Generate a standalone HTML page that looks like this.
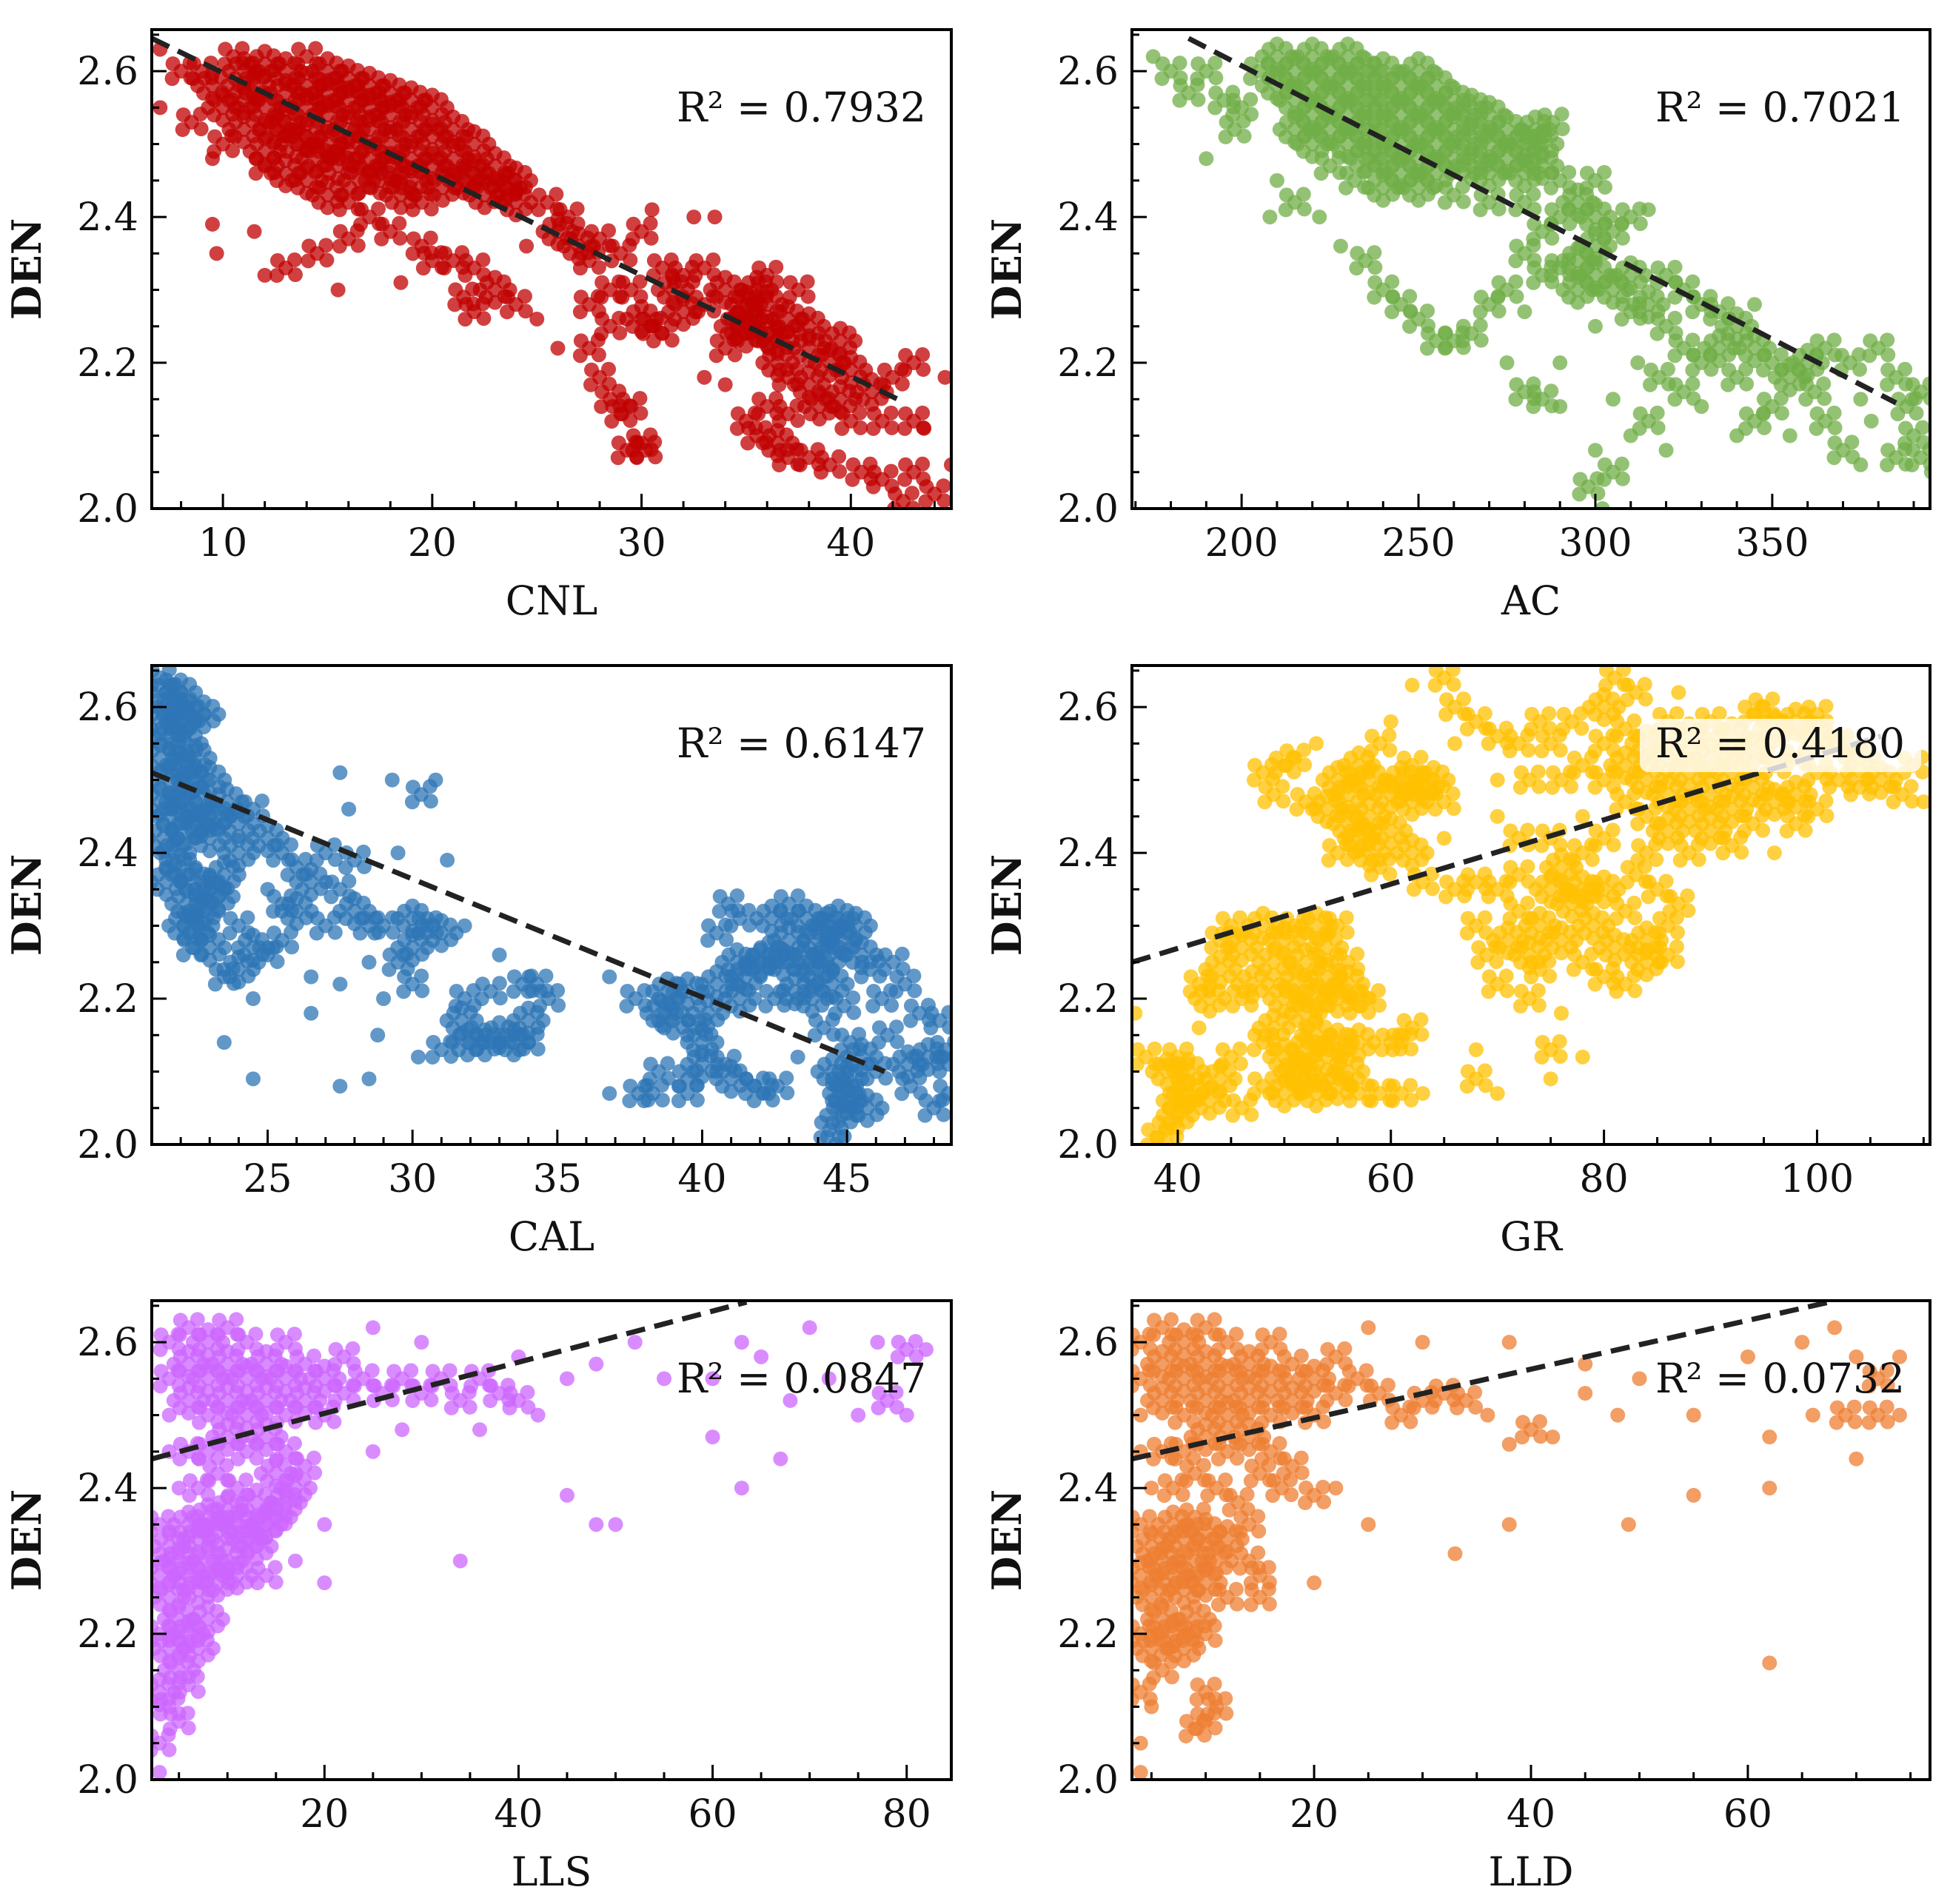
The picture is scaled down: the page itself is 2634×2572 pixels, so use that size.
<!DOCTYPE html>
<html><head><meta charset="utf-8"><style>
html,body{margin:0;padding:0;background:#fff}
svg{display:block}
text{font-family:"DejaVu Serif","Liberation Serif",serif;fill:#111}
</style></head><body>
<svg id="fig" width="2634" height="2572" viewBox="0 0 2634 2572" xmlns="http://www.w3.org/2000/svg"></svg>
<script>
// ---- data (flat [x,y,...] arrays, DEN vs log) ----
const cnlPts=[10.5,2.62,11,2.6,11,2.56,11.5,2.58,12,2.61,12,2.55,12.5,2.52,13,2.6,13,2.57,13,2.53,13.5,2.5,14,2.62,14,2.58,14,2.55,14,2.51,14.5,2.48,15,2.6,15,2.57,15,2.54,15,2.5,15.5,2.47,16,2.59,16,2.56,16,2.52,16,2.49,16.5,2.45,17,2.58,17,2.55,17,2.52,17,2.48,17.5,2.45,18,2.57,18,2.54,18,2.5,18,2.47,18.5,2.43,19,2.56,19,2.52,19,2.48,19,2.45,19.5,2.42,20,2.55,20,2.51,20,2.47,20.5,2.44,21,2.52,21,2.48,21.5,2.45,22,2.5,22,2.46,22.5,2.43,23,2.47,23.5,2.44,24,2.45,24,2.42,11,2.52,12,2.49,13,2.46,10,2.5,10,2.55,9.5,2.58,12,2.47,14,2.45,15,2.43,16,2.42,17,2.4,18,2.38,19.5,2.36,21,2.34,
7,2.63,8,2.6,7,2.55,8.5,2.53,9,2.6,9.5,2.48,9.5,2.39,9.7,2.35,11.5,2.38,12,2.32,13,2.33,14.5,2.35,15.5,2.3,16,2.37,18.5,2.31,20,2.34,22,2.33,23,2.3,21.5,2.29,22,2.27,24,2.28,24.5,2.36,25.5,2.42,26,2.38,26.5,2.4,27,2.36,27.5,2.34,28,2.37,29,2.35,30,2.38,30.5,2.41,32.5,2.4,33.5,2.4,31,2.33,32,2.32,27.5,2.28,28.5,2.25,25,2.26,26,2.22,27.5,2.22,28.5,2.3,29.5,2.3,30,2.26,31,2.24,28,2.18,28.5,2.15,29,2.13,29.5,2.14,30,2.09,30.2,2.08,29.3,2.08,30.5,2.25,32,2.27,33,2.28,34,2.22,34.5,2.25,35,2.28,35.5,2.3,36,2.32,36,2.28,35,2.24,36,2.24,37,2.26,37.5,2.3,38,2.25,36.5,2.2,37,2.18,38,2.22,34,2.17,35,2.12,36,2.14,37,2.13,36.5,2.09,37,2.07,38,2.07,38.5,2.14,39,2.2,39.5,2.23,40,2.19,40,2.12,41,2.16,41.5,2.12,42,2.18,43,2.12,43,2.2,44.5,2.18,43.5,2.11,42.5,2.01,41.5,2.04,40.5,2.05,43,2.05,44,2.02,44.8,2.06,39,2.06,35.5,2.1,33,2.18,31.5,2.3,33,2.33,34,2.3,35,2.26,36.5,2.23,38,2.17,39.5,2.15];
const acPts=[205,2.6,210,2.62,210,2.58,215,2.6,215,2.56,220,2.62,220,2.58,220,2.54,225,2.6,225,2.56,225,2.52,230,2.62,230,2.58,230,2.54,230,2.5,235,2.6,235,2.56,235,2.52,235,2.48,240,2.6,240,2.56,240,2.52,240,2.48,245,2.58,245,2.54,245,2.5,245,2.46,250,2.6,250,2.56,250,2.52,250,2.48,255,2.58,255,2.54,255,2.5,255,2.46,260,2.56,260,2.52,260,2.48,265,2.55,265,2.51,265,2.47,270,2.54,270,2.5,270,2.46,275,2.52,275,2.48,280,2.5,280,2.46,285,2.5,285,2.47,215,2.52,220,2.5,225,2.47,232,2.45,240,2.44,250,2.44,260,2.43,
175,2.62,180,2.6,185,2.57,190,2.6,195,2.56,200,2.55,190,2.48,198,2.52,210,2.45,215,2.42,208,2.4,222,2.4,228,2.36,235,2.34,240,2.3,245,2.28,250,2.26,255,2.23,260,2.23,265,2.24,270,2.28,275,2.3,280,2.35,285,2.38,290,2.4,295,2.42,300,2.4,305,2.38,310,2.4,315,2.41,290,2.33,295,2.3,300,2.32,305,2.3,310,2.27,315,2.28,320,2.32,325,2.3,330,2.28,335,2.27,340,2.25,345,2.22,350,2.2,355,2.18,345,2.28,335,2.22,325,2.22,318,2.18,312,2.2,300,2.25,280,2.27,275,2.2,280,2.16,285,2.15,290,2.2,290,2.14,305,2.15,300,2.08,298,2.03,302,2.0,305,2.05,310,2.1,315,2.12,320,2.08,325,2.16,330,2.14,340,2.1,345,2.12,350,2.14,355,2.1,360,2.2,362,2.16,365,2.12,370,2.08,375,2.15,380,2.22,385,2.18,390,2.1,392,2.07,385,2.07,375,2.06,365,2.22,372,2.2,378,2.12,388,2.14,392,2.16,395,2.05,340,2.18,330,2.2,320,2.25,310,2.32,300,2.36,295,2.34,285,2.32,280,2.42,290,2.45,300,2.45,270,2.42,283,2.52,288,2.53];
const calPts=[21.3,2.64,21.5,2.62,21.7,2.6,22,2.62,21.3,2.58,21.6,2.56,22,2.58,22.2,2.55,21.3,2.53,21.6,2.5,22,2.52,22.4,2.5,21.3,2.47,21.7,2.45,22,2.47,22.5,2.47,23,2.5,21.4,2.42,21.8,2.4,22.2,2.43,22.7,2.44,23.2,2.45,23.6,2.47,22,2.38,22.5,2.36,23,2.35,23.5,2.37,24,2.4,22.2,2.33,22.8,2.32,23.3,2.34,21.5,2.36,22.1,2.3,22.4,2.27,22.6,2.3,22.5,2.53,23,2.42,24,2.44,24.5,2.46,25,2.42,25.5,2.4,26,2.38,26.5,2.36,27,2.4,25,2.35,25.5,2.33,26,2.32,27,2.3,28,2.32,28.5,2.3,29,2.3,30,2.31,30.5,2.3,31,2.29,24,2.3,24.5,2.27,25,2.26,25.5,2.28,26.5,2.23,27.5,2.22,28.5,2.25,29.5,2.25,30,2.27,29,2.2,30,2.22,23.5,2.23,24,2.24,24.5,2.2,23,2.27,22.3,2.59,22.8,2.59,27.5,2.51,29.3,2.5,30.3,2.48,30.8,2.5,27.8,2.46,29.5,2.4,31.2,2.39,28,2.39,27.5,2.35,31.8,2.3,31.8,2.2,31.7,2.17,31.9,2.14,32.5,2.14,33,2.15,33.5,2.14,34,2.14,32.7,2.21,33,2.26,33.8,2.22,34.3,2.22,34.7,2.2,34,2.17,28.8,2.15,30.2,2.12,31,2.13,23.5,2.14,24.5,2.09,27.5,2.08,28.5,2.09,26.5,2.18,36.8,2.07,36.8,2.23,37.7,2.2,37.8,2.07,38.3,2.07,38.5,2.1,38.6,2.18,38.8,2.21,39,2.17,39.5,2.21,39.5,2.09,39.5,2.07,39.8,2.16,40,2.14,40,2.11,40.2,2.18,40.5,2.22,40.5,2.29,40.8,2.11,41,2.09,40.9,2.33,41.2,2.25,41.3,2.2,41.3,2.31,41.5,2.23,41.8,2.08,42,2.25,42.1,2.07,42.3,2.26,42.4,2.31,42.5,2.2,42.6,2.08,42.8,2.25,43,2.33,43,2.28,43.2,2.21,43.3,2.12,43.5,2.25,43.6,2.31,43.8,2.2,44,2.28,44,2.24,44.2,2.16,44.3,2.3,44.4,2.26,44.5,2.22,44.5,2.1,44.7,2.31,44.8,2.28,44.9,2.19,44.9,2.07,44.4,2.02,44.6,2.0,44.8,2.04,45,2.09,45.1,2.14,45.3,2.3,45.5,2.26,45.5,2.12,45.8,2.24,46,2.1,46.2,2.2,46.4,2.15,46.6,2.25,47,2.22,47.1,2.11,47.2,2.08,47.5,2.18,47.8,2.12,48,2.05,48.2,2.17,48.4,2.13,48.5,2.11,48.5,2.07,45.7,2.05,45,2.06];
const grPts=[80,2.55,80,2.5,80,2.6,82,2.57,82,2.52,82,2.47,84,2.55,84,2.5,84,2.45,86,2.58,86,2.53,86,2.48,86,2.43,88,2.56,88,2.51,88,2.46,90,2.58,90,2.53,90,2.48,90,2.43,92,2.56,92,2.51,92,2.46,94,2.59,94,2.54,94,2.49,94,2.44,96,2.57,96,2.52,96,2.47,98,2.58,98,2.53,98,2.48,100,2.56,100,2.51,100,2.46,102,2.55,102,2.5,104,2.53,104,2.49,106,2.5,108,2.48,110,2.47,109,2.52,78,2.45,80,2.42,84,2.4,88,2.4,92,2.41,96,2.4,98,2.44,83,2.62,87,2.62,95,2.6,100,2.59,81,2.64,77,2.58,78,2.52,76,2.5,
48,2.51,50,2.52,51,2.53,53,2.55,55,2.5,56,2.48,57,2.52,58,2.45,58,2.5,59,2.55,60,2.48,60,2.43,61,2.5,62,2.47,62,2.52,63,2.49,64,2.5,65,2.47,66,2.55,57,2.42,58,2.4,56,2.44,54,2.46,59,2.38,62,2.4,65,2.42,55,2.4,63,2.36,66,2.35,68,2.36,70,2.35,72,2.37,60,2.58,62,2.63,65,2.64,66,2.6,68,2.58,70,2.56,72,2.55,74,2.58,70,2.5,73,2.5,75,2.55,49,2.48,52,2.47,
68,2.3,69,2.26,70,2.22,71,2.28,72,2.32,73,2.26,74,2.3,74,2.24,75,2.35,76,2.28,76,2.38,77,2.33,78,2.25,78,2.4,79,2.3,80,2.35,81,2.27,82,2.32,83,2.37,84,2.28,85,2.35,86,2.3,87,2.33,80,2.23,82,2.22,84,2.25,86,2.26,75,2.42,72,2.42,70,2.45,78,2.35,73,2.2,76,2.18,75,2.13,78,2.12,75,2.09,70,2.07,68,2.09,68,2.13,
44,2.28,45,2.3,46,2.27,48,2.3,47,2.22,49,2.25,50,2.28,51,2.3,52,2.25,53,2.3,54,2.27,50,2.2,51,2.22,52,2.18,53,2.2,54,2.23,55,2.2,56,2.22,57,2.19,49,2.16,50,2.12,51,2.1,52,2.13,53,2.15,54,2.12,55,2.14,56,2.1,57,2.14,58,2.2,60,2.14,61,2.14,62,2.16,48,2.14,46,2.2,45,2.12,44,2.09,43,2.2,42,2.16,42,2.22,40,2.12,41,2.1,39,2.1,40,2.06,41,2.07,38,2.01,39,2.02,40,2.04,36,2.18,37,2.12,43,2.06,46,2.05,48,2.08,50,2.07,52,2.09,53,2.07,55,2.08,57,2.07,59,2.07,61,2.07,63,2.07,55,2.3,56,2.25,44,2.24];
const llsPts=[4,2.5,4,2.55,4,2.6,6,2.52,6,2.57,6,2.62,8,2.5,8,2.55,8,2.6,10,2.52,10,2.57,10,2.62,12,2.5,12,2.55,12,2.6,14,2.52,14,2.57,16,2.5,16,2.55,16,2.6,18,2.52,18,2.57,20,2.5,20,2.55,22,2.53,22,2.58,24,2.55,26,2.53,28,2.55,30,2.53,32,2.55,34,2.52,36,2.55,38,2.53,8,2.45,10,2.47,12,2.45,14,2.47,16,2.45,18,2.43,6,2.45,4,2.45,5,2.4,7,2.4,9,2.42,11,2.4,13,2.38,15,2.42,17,2.4,
3,2.35,3,2.28,3,2.2,3,2.12,3,2.05,3,2.01,4,2.32,4,2.25,4,2.18,4,2.1,5,2.3,5,2.22,5,2.15,6,2.35,6,2.28,6,2.2,7,2.33,7,2.26,7,2.18,8,2.36,8,2.3,8,2.22,9,2.34,9,2.27,10,2.37,10,2.3,11,2.35,11,2.28,12,2.33,13,2.32,14,2.35,14,2.28,15,2.36,16,2.38,17,2.3,6,2.13,5,2.08,
20,2.35,20,2.27,34,2.3,45,2.39,48,2.35,50,2.35,63,2.4,67,2.44,60,2.47,25,2.62,30,2.6,40,2.58,45,2.55,48,2.57,52,2.6,55,2.55,60,2.55,63,2.6,65,2.58,70,2.62,72,2.55,77,2.6,80,2.59,82,2.59,78,2.52,75,2.5,80,2.5,68,2.52,40,2.52,42,2.5,36,2.48,25,2.45,28,2.48];
const lldPts=[4,2.5,4,2.55,4,2.6,6,2.52,6,2.57,6,2.62,8,2.5,8,2.55,8,2.6,10,2.52,10,2.57,10,2.62,12,2.5,12,2.55,12,2.6,14,2.52,14,2.57,16,2.5,16,2.55,16,2.6,18,2.52,18,2.57,20,2.5,20,2.55,22,2.53,22,2.58,24,2.55,26,2.53,28,2.5,30,2.52,32,2.53,34,2.52,36,2.5,8,2.45,10,2.47,12,2.45,14,2.47,16,2.45,18,2.43,6,2.45,4,2.45,5,2.4,7,2.4,9,2.42,11,2.4,13,2.38,15,2.42,17,2.4,
4,2.35,4,2.28,4,2.2,4,2.12,4,2.05,4,2.01,5,2.32,5,2.25,5,2.18,5,2.1,6,2.3,6,2.22,6,2.15,7,2.35,7,2.28,7,2.2,8,2.33,8,2.26,8,2.18,9,2.36,9,2.3,9,2.22,10,2.34,10,2.27,10,2.2,10,2.12,10,2.08,9,2.07,11,2.1,11,2.3,12,2.33,12,2.25,14,2.3,14,2.35,15,2.28,
20,2.39,22,2.4,25,2.35,33,2.31,38,2.35,49,2.35,55,2.39,62,2.4,62,2.47,70,2.44,20,2.27,62,2.16,15,2.25,25,2.62,30,2.6,38,2.6,45,2.57,50,2.55,55,2.5,60,2.58,65,2.6,68,2.62,70,2.58,72,2.55,74,2.58,72,2.5,74,2.5,69,2.5,66,2.5,45,2.53,40,2.48,38,2.46,42,2.47,48,2.5];
// regression endpoints [x0,y0,x1,y1]
const cnlFit=[6.6,2.645,42.6,2.145];
const acFit=[185,2.645,385,2.145];
const calFit=[21.0,2.51,46.3,2.10];
const grFit=[35.7,2.25,106,2.56];
const llsFit=[2.2,2.44,63.5,2.655];
const lldFit=[3.2,2.44,67.5,2.655];
const r2Labels=["0.7932","0.7021","0.6147","0.4180","0.0847","0.0732"];
const yTicks=[2.0,2.2,2.4,2.6];
const cnlTicks=[10,20,30,40], acTicks=[200,250,300,350], calTicks=[25,30,35,40,45], grTicks=[40,60,80,100], llsTicks=[20,40,60,80], lldTicks=[20,40,60];

const NS="http://www.w3.org/2000/svg", svg=document.getElementById('fig');
function mk(tag,attrs,parent){const e=document.createElementNS(NS,tag);for(const k in attrs)e.setAttribute(k,attrs[k]);(parent||svg).appendChild(e);return e;}
const panels=[
 {key:'cnl',label:'CNL',px:205,py:40,w:1080,xd:[6.6,44.8],pts:cnlPts,fit:cnlFit,ticks:cnlTicks,minor:2,col:'#c00000',r2:r2Labels[0]},
 {key:'ac',label:'AC',px:1529,py:40,w:1078,xd:[169,394.6],pts:acPts,fit:acFit,ticks:acTicks,minor:10,col:'#70ad47',r2:r2Labels[1]},
 {key:'cal',label:'CAL',px:205,py:899,w:1080,xd:[21.0,48.6],pts:calPts,fit:calFit,ticks:calTicks,minor:1,col:'#2e75b6',r2:r2Labels[2]},
 {key:'gr',label:'GR',px:1529,py:899,w:1078,xd:[35.7,110.6],pts:grPts,fit:grFit,ticks:grTicks,minor:5,col:'#ffc000',r2:r2Labels[3],box:true},
 {key:'lls',label:'LLS',px:205,py:1757,w:1080,xd:[2.2,84.6],pts:llsPts,fit:llsFit,ticks:llsTicks,minor:5,col:'#cc66ff',r2:r2Labels[4]},
 {key:'lld',label:'LLD',px:1529,py:1757,w:1078,xd:[3.2,76.8],pts:lldPts,fit:lldFit,ticks:lldTicks,minor:5,col:'#ed7d31',r2:r2Labels[5]}
];
const H=647, YD=[2.0,2.657];
const R=10;
const blob=[[0,0],[13,9],[-12,10],[12,-11],[-11,-10],[0,17],[0,-17],[20,0],[-20,0]];
panels.forEach(p=>{
 const g=mk('g',{});
 
 
 const sx=v=>p.px+(v-p.xd[0])/(p.xd[1]-p.xd[0])*p.w;
 const sy=v=>p.py+H-(v-YD[0])/(YD[1]-YD[0])*H;
 const cid='clip-'+p.key;
 const cp=mk('clipPath',{id:cid},g); mk('rect',{x:p.px,y:p.py,width:p.w,height:H},cp);
 const pg=mk('g',{'clip-path':'url(#'+cid+')'},g);
 
 
 const P=[];
 for(let i=0;i<p.pts.length;i+=2)P.push([sx(p.pts[i]),sy(p.pts[i+1])]);
 P.forEach((q,i)=>{
  let n=0;P.forEach((o,j)=>{if(j!==i&&Math.hypot(o[0]-q[0],o[1]-q[1])<48)n++;});
  const k=n>=4?blob.length:(n>=2?5:1);
  for(let b=0;b<k;b++){
   const c=mk('circle',{cx:q[0]+blob[b][0],cy:q[1]+blob[b][1],r:R,fill:p.col,'fill-opacity':0.75},pg);
   if(b===0){}
  }
 });
 const ln=mk('line',{x1:sx(p.fit[0]),y1:sy(p.fit[1]),x2:sx(p.fit[2]),y2:sy(p.fit[3]),stroke:'#222','stroke-width':7,'stroke-dasharray':'26 13'},pg);
 
 
 const fr=mk('rect',{x:p.px,y:p.py,width:p.w,height:H,fill:'none',stroke:'#000','stroke-width':4},g);
 
 
 for(let v=2.0;v<=2.651;v+=0.05){
  const major=Math.abs((v*10)%2)<0.01||Math.abs((v*10)%2-2)<0.01;
  const y=sy(v);
  mk('line',{x1:p.px,x2:p.px+(major?20:10),y1:y,y2:y,stroke:'#000','stroke-width':3},g);
 }
 yTicks.forEach(v=>{
  const t=mk('text',{x:p.px-18,y:sy(v)+18,'text-anchor':'end','font-size':52},g);
  t.textContent=v.toFixed(1);
  
  
 });
 const start=Math.ceil(p.xd[0]/p.minor)*p.minor;
 for(let v=start;v<=p.xd[1];v+=p.minor){
  const major=p.ticks.some(t=>Math.abs(t-v)<1e-6);
  const x=sx(v);
  mk('line',{x1:x,x2:x,y1:p.py+H,y2:p.py+H-(major?20:10),stroke:'#000','stroke-width':3},g);
 }
 p.ticks.forEach(v=>{
  const t=mk('text',{x:sx(v),y:p.py+H+64,'text-anchor':'middle','font-size':52},g);
  t.textContent=v;
  
  
 });
 const xl=mk('text',{x:p.px+p.w/2,y:p.py+H+143,'text-anchor':'middle','font-size':54},g);
 xl.textContent=p.label;
 
 
 const yx=p.px-150, yy=p.py+H/2;
 const yl=mk('text',{x:yx,y:yy,'text-anchor':'middle','font-size':54,'font-weight':'bold',transform:'rotate(-90 '+yx+' '+yy+')'},g);
 yl.textContent='DEN';
 
 
 if(p.box){
  const b=mk('rect',{x:p.px+p.w-392,y:p.py+72,width:380,height:72,rx:12,fill:'#fff','fill-opacity':0.8},g);
  
  
 }
 const rt=mk('text',{x:p.px+p.w-34,y:p.py+124,'text-anchor':'end','font-size':55},g);
 rt.textContent='R² = '+p.r2;
 
 
});
</script>
</body></html>
